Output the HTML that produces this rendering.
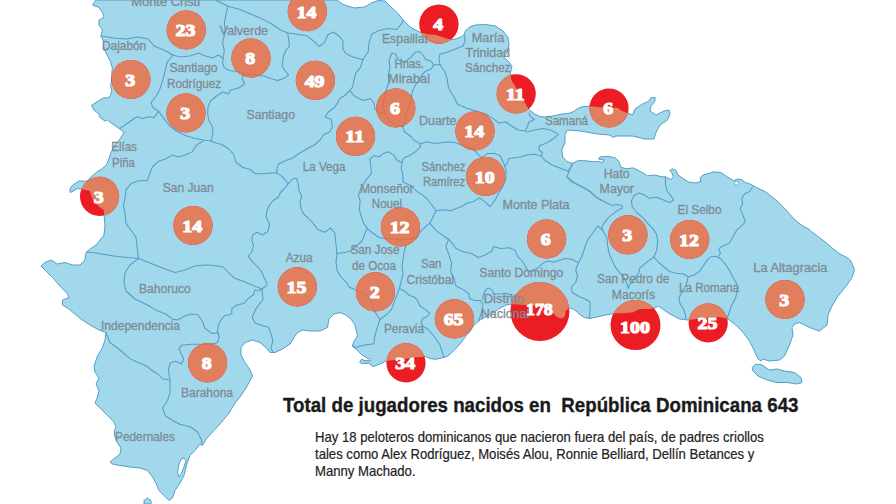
<!DOCTYPE html>
<html><head><meta charset="utf-8"><title>Mapa</title>
<style>
html,body{margin:0;padding:0;background:#fff;}
body{width:896px;height:504px;overflow:hidden;position:relative;font-family:"Liberation Sans",sans-serif;}
svg{position:absolute;left:0;top:0;}
.lb{font-family:"Liberation Sans",sans-serif;font-size:12.5px;fill:#7d8b94;text-anchor:start;stroke:#7d8b94;stroke-width:0.3px;}
.num{font-family:"Liberation Serif",serif;font-weight:bold;font-size:17.6px;fill:#fff;text-anchor:middle;stroke:#fff;stroke-width:1.15px;stroke-linejoin:round;}
.title{position:absolute;left:282.6px;top:393.1px;font-weight:bold;font-size:20.2px;-webkit-text-stroke:0.35px #1a1a1a;line-height:24px;color:#1a1a1a;white-space:pre;transform-origin:0 0;transform:scaleX(0.927);}
.body{position:absolute;left:315px;top:429.1px;-webkit-text-stroke:0.2px #222;font-size:14.5px;line-height:16.95px;color:#222;white-space:pre;transform-origin:0 0;transform:scaleX(0.904);}
</style></head><body>
<svg width="896" height="504" viewBox="0 0 896 504">
<defs><clipPath id="land"><polygon points="96,0 337,0 343,4.5 354,8 364.6,7 372,2.7 378,0.5 385,1 391,7 398.5,14 404,21 410,26.8 415,29.8 419.9,32.2 427.9,34.2 434.8,34.7 439.8,36.2 445.7,38.2 451.7,39.7 454.6,39.2 457.6,38.2 461.6,36.7 464,34.7 465.6,30.75 467.5,28.8 470,26.8 475.5,25 485.5,24.5 495.5,26 503,31 508,37.5 509,45 507,52.5 504,57.5 508,61 512,66 510.5,72.5 511.3,80 520.2,94.3 528.6,109.2 534.5,113.9 539.3,116.3 545.2,117.1 551.2,116.3 557.1,115.1 563.1,113.9 569,113.3 573.8,111.5 577.4,108.6 582.1,106.8 589.3,106.2 600,107.2 610,107.5 618,108 621,110.5 626,112.5 632.5,115 635,109 642.5,104 649,101 651,97.5 655,97.5 655,101 651,106 650,111 656,115 664,111 669,110 670,114 667.5,120 660,125 656,132.5 654,139 645,139 632.5,136 616,136 612.5,137.5 610,135 597.5,134 580,131 567.5,130 565,134 565,142.5 561.8,150 562.7,157 567,161.6 572.5,163.4 577.9,160.7 585,160.7 592,161.6 598.4,161.6 602.9,162.5 603.75,159.8 598.4,159 600,157 608.2,156.25 615.4,158 619,161.6 620.7,167 626,168.75 633.2,167.9 640.4,171.4 647.5,175.9 654.6,175 661.8,176.8 665.4,176.8 670.7,179.5 673.4,176.8 671.6,172.3 669.8,170.5 672.5,168.75 676,170.5 677.9,175 683.2,178.6 688.6,182 695.7,183 701,181.25 700.2,177.7 702.9,175 710,173.2 713.2,171.8 721.25,172.7 727.5,177 733.75,180.7 737.3,179 741.8,179.8 745.4,182.5 750.7,184.3 757,187.9 765,191.4 772,196.8 779.3,203 784.6,208.4 790,214.6 797,221.8 804.3,227 808.75,229 811.4,231.6 818.6,237 825.7,242.3 832.9,248.6 840,254 847,257.5 851,261 854.5,270 852,277.5 847,285 838,296 832,306 828,315 827,325 819.5,331 809.5,327.5 799.5,322.5 794.5,324 792,327.5 793,335 789.5,345 784.5,356 779.5,360 769.5,361 766,360 763,359 761,361 758,359 754.5,351 749.5,341 742,331 734.5,324 728,319 720,317 705,318 688,320 679.5,319 670,314 662.5,309 658.7,306.1 654.7,308.1 649.7,309.1 640.6,309.1 636.6,310.2 633.6,312.2 628.6,312.8 620.5,313.2 615.5,313.2 610.5,314.2 604.5,315.2 596.4,317.2 589.4,318.4 584.4,317.6 580.4,315.2 577.3,312.2 573.3,309.1 570.3,308.1 568.3,308.7 565.6,310.8 564.9,316.2 562.3,318.2 557.25,317.2 554.2,314.2 549,310.5 542,307.5 534,305.8 526.1,305.1 518,304.4 511,304.3 506,305.1 500,308.1 497.5,310 487.5,316 480,320 474,325 470,331.6 466.3,335.2 463.4,339.6 460.5,343.2 456.1,348.3 451.8,352.7 447.4,356.3 441.6,358 435.8,359.3 430,358.6 425.6,356.5 415,357.5 405.3,358.7 395,359.8 386.4,360.9 379.2,364.3 372.7,366.7 369,363.2 361.8,363.5 359.6,362.1 361.8,358.9 364,360.6 370.3,360.8 369.8,359.2 365.4,357 361.8,354.8 356,349 352.3,346.1 353.8,341.8 357.4,336 356,328.7 355,325 351,319 346,315 340,312.5 334,314 329,319 327.5,327.5 320,331 310,331 302.5,330 297.5,332.5 294,337.5 290,344 282.5,349 275,352.5 270,352.5 266,347.5 260,342.5 252.5,340 245,342.5 241,347.5 241,355 245,362.5 250,370 252.5,376 249,382.5 246,388 240,397 235,403 229,413 220,424 212.5,432 206,439 202.5,445.5 200,444 195,450.5 190,455.5 187.5,462 186,467 184,475.5 180,483 175,490.5 172.5,498 169,500.5 164,495.5 159,490.5 156,483 152.5,477 147.5,470.5 140,468 130,467 120,465.5 112.5,464 110,462 115,458 120,454 121,448 117.5,443 115,437 114,432 116,427 114,422 107.5,415.5 101,409 95,403 97.5,397 99,390.5 96,384 99,378 95,372 94,366 97.5,356 102.5,347.5 105,340 106,332.5 99,330 90,325 81,319 75,314 69,309 62.5,305 62.5,300 69,297.5 67.5,294 60,286 52.5,277.5 45,270 41,266 45,262.5 51,260 57.5,264 65,262.5 72.5,265 80,265 85,260 86,252.5 90,249 96,245 100,240 104,235 105,225 104,215 103.75,210 99.6,207 95.4,203 92.6,199 91,195 90,191 81,189 77.4,188.5 74,190.5 70.4,192.6 69.7,190 71,187 73,185 76,183 78.75,181 82,181 85.7,181.5 88.5,180 91,177 94,174.5 96.8,172 101.7,169 106,165.5 108.6,160 111,152.5 115,145 120,139 124,132.5 120,129 112.5,124 107.5,120 105,121 100,117.5 99,114 94,110 91.5,105.4 98.1,101.2 102.9,98.2 108.8,97.6 110.6,95.2 111.8,90.5 110.6,85.7 111.8,79.8 111.8,73.8 112.4,67.9 110.6,61.9 108.2,57.1 104.6,50 103,46.5 104,42.5 101,36 102.5,30 99,25 99,20 104,17.5 102.5,12.5 99,7.5 92.5,5"/><polygon points="752,367.5 756,364 762,365 769.5,370 777,369 784.5,371 794.5,372.5 801,377.5 802,382.5 797,384 787,382.5 777,382.5 767,380 758,376 753,371"/><polygon points="144,504 144,500.5 147.5,498 151,500.5 151,504"/></clipPath></defs>

<g fill="#a2d8eb" stroke="#549dc8" stroke-width="1" stroke-linejoin="round">
<polygon points="96,0 337,0 343,4.5 354,8 364.6,7 372,2.7 378,0.5 385,1 391,7 398.5,14 404,21 410,26.8 415,29.8 419.9,32.2 427.9,34.2 434.8,34.7 439.8,36.2 445.7,38.2 451.7,39.7 454.6,39.2 457.6,38.2 461.6,36.7 464,34.7 465.6,30.75 467.5,28.8 470,26.8 475.5,25 485.5,24.5 495.5,26 503,31 508,37.5 509,45 507,52.5 504,57.5 508,61 512,66 510.5,72.5 511.3,80 520.2,94.3 528.6,109.2 534.5,113.9 539.3,116.3 545.2,117.1 551.2,116.3 557.1,115.1 563.1,113.9 569,113.3 573.8,111.5 577.4,108.6 582.1,106.8 589.3,106.2 600,107.2 610,107.5 618,108 621,110.5 626,112.5 632.5,115 635,109 642.5,104 649,101 651,97.5 655,97.5 655,101 651,106 650,111 656,115 664,111 669,110 670,114 667.5,120 660,125 656,132.5 654,139 645,139 632.5,136 616,136 612.5,137.5 610,135 597.5,134 580,131 567.5,130 565,134 565,142.5 561.8,150 562.7,157 567,161.6 572.5,163.4 577.9,160.7 585,160.7 592,161.6 598.4,161.6 602.9,162.5 603.75,159.8 598.4,159 600,157 608.2,156.25 615.4,158 619,161.6 620.7,167 626,168.75 633.2,167.9 640.4,171.4 647.5,175.9 654.6,175 661.8,176.8 665.4,176.8 670.7,179.5 673.4,176.8 671.6,172.3 669.8,170.5 672.5,168.75 676,170.5 677.9,175 683.2,178.6 688.6,182 695.7,183 701,181.25 700.2,177.7 702.9,175 710,173.2 713.2,171.8 721.25,172.7 727.5,177 733.75,180.7 737.3,179 741.8,179.8 745.4,182.5 750.7,184.3 757,187.9 765,191.4 772,196.8 779.3,203 784.6,208.4 790,214.6 797,221.8 804.3,227 808.75,229 811.4,231.6 818.6,237 825.7,242.3 832.9,248.6 840,254 847,257.5 851,261 854.5,270 852,277.5 847,285 838,296 832,306 828,315 827,325 819.5,331 809.5,327.5 799.5,322.5 794.5,324 792,327.5 793,335 789.5,345 784.5,356 779.5,360 769.5,361 766,360 763,359 761,361 758,359 754.5,351 749.5,341 742,331 734.5,324 728,319 720,317 705,318 688,320 679.5,319 670,314 662.5,309 658.7,306.1 654.7,308.1 649.7,309.1 640.6,309.1 636.6,310.2 633.6,312.2 628.6,312.8 620.5,313.2 615.5,313.2 610.5,314.2 604.5,315.2 596.4,317.2 589.4,318.4 584.4,317.6 580.4,315.2 577.3,312.2 573.3,309.1 570.3,308.1 568.3,308.7 565.6,310.8 564.9,316.2 562.3,318.2 557.25,317.2 554.2,314.2 549,310.5 542,307.5 534,305.8 526.1,305.1 518,304.4 511,304.3 506,305.1 500,308.1 497.5,310 487.5,316 480,320 474,325 470,331.6 466.3,335.2 463.4,339.6 460.5,343.2 456.1,348.3 451.8,352.7 447.4,356.3 441.6,358 435.8,359.3 430,358.6 425.6,356.5 415,357.5 405.3,358.7 395,359.8 386.4,360.9 379.2,364.3 372.7,366.7 369,363.2 361.8,363.5 359.6,362.1 361.8,358.9 364,360.6 370.3,360.8 369.8,359.2 365.4,357 361.8,354.8 356,349 352.3,346.1 353.8,341.8 357.4,336 356,328.7 355,325 351,319 346,315 340,312.5 334,314 329,319 327.5,327.5 320,331 310,331 302.5,330 297.5,332.5 294,337.5 290,344 282.5,349 275,352.5 270,352.5 266,347.5 260,342.5 252.5,340 245,342.5 241,347.5 241,355 245,362.5 250,370 252.5,376 249,382.5 246,388 240,397 235,403 229,413 220,424 212.5,432 206,439 202.5,445.5 200,444 195,450.5 190,455.5 187.5,462 186,467 184,475.5 180,483 175,490.5 172.5,498 169,500.5 164,495.5 159,490.5 156,483 152.5,477 147.5,470.5 140,468 130,467 120,465.5 112.5,464 110,462 115,458 120,454 121,448 117.5,443 115,437 114,432 116,427 114,422 107.5,415.5 101,409 95,403 97.5,397 99,390.5 96,384 99,378 95,372 94,366 97.5,356 102.5,347.5 105,340 106,332.5 99,330 90,325 81,319 75,314 69,309 62.5,305 62.5,300 69,297.5 67.5,294 60,286 52.5,277.5 45,270 41,266 45,262.5 51,260 57.5,264 65,262.5 72.5,265 80,265 85,260 86,252.5 90,249 96,245 100,240 104,235 105,225 104,215 103.75,210 99.6,207 95.4,203 92.6,199 91,195 90,191 81,189 77.4,188.5 74,190.5 70.4,192.6 69.7,190 71,187 73,185 76,183 78.75,181 82,181 85.7,181.5 88.5,180 91,177 94,174.5 96.8,172 101.7,169 106,165.5 108.6,160 111,152.5 115,145 120,139 124,132.5 120,129 112.5,124 107.5,120 105,121 100,117.5 99,114 94,110 91.5,105.4 98.1,101.2 102.9,98.2 108.8,97.6 110.6,95.2 111.8,90.5 110.6,85.7 111.8,79.8 111.8,73.8 112.4,67.9 110.6,61.9 108.2,57.1 104.6,50 103,46.5 104,42.5 101,36 102.5,30 99,25 99,20 104,17.5 102.5,12.5 99,7.5 92.5,5"/><polygon points="752,367.5 756,364 762,365 769.5,370 777,369 784.5,371 794.5,372.5 801,377.5 802,382.5 797,384 787,382.5 777,382.5 767,380 758,376 753,371"/><polygon points="144,504 144,500.5 147.5,498 151,500.5 151,504"/>
<polygon points="184,458 186,460.5 184,467 181,474 179,477 177.5,472 179,464 181,459" fill="#fff"/>
<circle cx="736.6" cy="183.2" r="2" fill="#fff" stroke="#549dc8" stroke-width="0.8"/>
</g>
<g fill="none" stroke="#549dc8" stroke-width="1.05" stroke-linejoin="round" stroke-linecap="round">
<polyline points="101,36 114,38 126,39 138,37 148,39 154,46 164,50 173,55 180,57 190,56 198.5,53 205.5,56 212.5,58 218.5,55 222.5,58"/>
<polyline points="215.4,0 227.9,6.25 226,14.3 224.3,23.2 225.2,30.4 224.3,35.7 222.5,42.9 224.3,50 223.4,57 222.5,62.5 224.3,67.9 229.6,70.5 236.8,71.4 243.9,73.2 242,78.6 244.7,84 238.6,88 230.6,90 228.6,94 222.6,92 216.5,96 210.5,101 208,107 207.7,113 208.6,120 212,125.7 213,133 211.25,141"/>
<polyline points="243.9,73.2 254.6,75 263.6,75.9 270.7,78.6 277.9,80.4 285,77.7 288.6,75 285,70.5 282.3,66 283.2,57 285.9,50 289.5,46.4 288.6,39.3 287.7,33"/>
<polyline points="227.9,6.25 238.6,9 249.3,13.4 260,17.9 270.7,23.2 279.6,29.5 287.7,33 295.7,34 306.4,35.7 313.6,41 319,46.4 324.3,42.9 327.9,34.8 333.2,32 338.6,35.7 343,41 343,49 345.7,53.6 352.9,57 362.9,59.8 368.2,51.8 369,42.9 371.8,34 379,30.4 387.9,28.6 396.8,29.5 402,23.2 403,20.5"/>
<polyline points="362.9,59.8 360.2,67.9 355.7,73.2 354,80.4 352.5,87 349.8,90.7 345.4,95 340,98.5 335,107 327.9,112.5 325.2,117 331.4,119.6 332.3,126.8 329.6,132 323.4,134.8 320.7,139.3 314.3,145 307,148.75 300,153 292.9,157.7 284,161.25 278.6,164 276.8,168.4 276.8,172.9"/>
<polyline points="349.8,90.7 354.3,96 363.2,100.5 370.4,98.75 374,103 374.8,108.6 378.4,112 385.5,114"/>
<polyline points="391.8,53.2 389,60.4 390,67.5 388.2,74.6 389,81.8 387.3,87 385.5,92.5 383.75,99.6 382.9,106.8 385.5,114 389,121 396,125 402.9,126.8"/>
<polyline points="391.8,53.2 395.4,54 399,60.4 405,62 411.4,56.8 415,52.3 419.5,51.4 423,55 425.7,59.5 431,61.25 433.75,64.8 431,69.3 425.7,71 422,74.6 419.5,80 415,85.4 412.3,92.5 410.5,101.4 407.9,108.6 406,115.7 404.5,122 402.9,126.8"/>
<polyline points="433.75,64.8 440,64.8 439,58.6 440,54 447,52.3 456,48.75 463.2,46 465,40.7 464.5,35"/>
<polyline points="440,64.8 444.5,71 447,78 448,85.4 450,91 454,97 457.5,104.3 466.4,107.9 477,111.4 486,114 493.2,118.6 498.6,123 505.7,122 511,125.7 518.2,130 525.4,131 527,127.5 529,122 534.3,119.5 530.7,116.8 529,113.2"/>
<polyline points="527,132 534.3,130 543.2,128.4 550.4,130 556.6,132.9 558.4,134.6 554,138.2 548.6,141.8 543.2,144.5 539.6,145.4 538.75,149.8 542.3,152.5 541.4,156 545,160.5 552,165 561,168.6 568.2,171.25 571,166.8 572.5,163.4"/>
<polyline points="541.4,156 534.3,154.3 527,155 520,157 512.9,157.9 508.4,158.75 507.5,163.2 504.8,166 503,161.4 500.4,156 495,153.4 487.9,153.4 484.3,156 481.6,157.9 477,153.4 474.5,149.8 462.9,145.4 455.7,142.7 448.6,141.8 441.4,142.7 434.3,143.6 427,141.8 420.7,143.75"/>
<polyline points="402.9,126.8 404.6,132 410,135.7 413.6,140 419,142.9 420.7,146.4 415.4,151.8 410,155.4 403.75,158 402,162.5 401,167.9 402.9,175 403,182 411,185.7 416.4,191 421.8,194.6 427,199 431.6,204.5 436,210.7 432.5,217.9 429.8,223.2"/>
<polyline points="402,162.5 397.5,160.7 394,155.4 388.6,151.8 383.2,153.6 378.75,157 374.3,155.4 369.8,159 370.7,166 371.6,173.2 367,178.6 363.6,184 361,188.4 358.4,194.6 360.2,201.8 359.3,209 361,216 363.75,223.2 367.3,228.6 364.6,234 362,241 355.7,246.4 350.4,251 343.2,252.7 337,253.6"/>
<polyline points="367.3,228.6 372.7,233 379,237.5 384.3,238.4 400,240 416.4,238.4 420,232 425.4,226.8 429.8,223.2"/>
<polyline points="436,210.7 443.2,209.8 450.4,210.7 457.5,208 461.4,206.8 466.8,203.2 474,201.4 479.3,197.9 484.6,201.4 490,206.8 495.4,199.6 499,192.5 503,186 506,178 506,170 504.8,166"/>
<polyline points="429.8,223.2 436,230.4 443.2,235.7 448.6,239.3 452,242.9 455.7,248.2 463.2,251.8 471.25,253.5 478.4,257.5 485.5,254.8 491.8,251.25 493.6,246.8 500.7,248.6 509.6,247.7 515,250.4 517.7,256.6 523,262 525.7,267.3 529.3,271.8 537.3,268.2 543.6,262.9 547,261 554.3,262 565,258.4 572,259.3 578.4,262.9 582.9,254 585.5,245 588.2,239 593.6,231.8 598,226 602.3,230"/>
<polyline points="448.6,239.3 445.9,246.4 448.6,254 451.6,262.9 450.7,271.8 454.3,279 456,286 463.2,289.6 468.6,293.2 469.5,298.6 474.8,300.4 480.2,300.4 482.9,304 482,311 480.2,316.4 479,320"/>
<polyline points="482.9,300 482.9,296.8 484.6,291.4 488.2,287.9 491.8,289.6 493.6,294 499,294 506,293.2 511.4,295 513.2,298.6 515,302 519,305"/>
<polyline points="578.4,262.9 575.7,270 577.5,276.25 575.7,282.5 571.25,287 572,292.3 579.3,296.8 586.4,299.5 590,302 590,309.3 589.6,316.4 589,318.5"/>
<polyline points="567,176.8 575.7,183.6 584.6,188 591.8,192.5 597,197.9 601,200"/>
<polyline points="572.5,163.4 569.8,169.6 567,176.8 570.7,181.25 577.9,184.8 585,188.4 590.4,192 594.8,196.4 601,200 606.4,202.7 611.8,205.4 617,204.5 621.6,205.4 622.5,208 617,210.7 612.7,214.3 608.2,217.9 604.6,222.3 602,226.8 602.3,230 606.8,237.5 607.7,246.4 609.5,255 613,262.5 615.7,267.9 620.2,273.2 624.6,278.6 627.3,284.8 628.2,288.4"/>
<polyline points="665.4,176.8 665.4,184 667,191 671.6,196.4 673.4,200 669.8,202.7 663.6,200 656.4,197.3 649.3,198.2 644,194.6 638.6,192.9 634,195.5 631.4,200.9 632.3,207 636.8,212.5 643,217.9 647.5,223.2 652.9,228.6 656.4,234 657.7,241 656.8,250 654,257 648.75,260.7 644.3,264.3 639.8,267.9 638.9,272.3 634.5,278.6 629,285.7 628.2,288.4"/>
<polyline points="654,257 658.6,262.5 664,267 669.3,271.4 676.4,273.2 683.6,274 688,276.8 687,282 685.4,286.6 681.8,292 679,298 680,303.6 683.6,309 685.4,315 686,319"/>
<polyline points="688,276.8 694.3,275 699.6,271.4 703.2,266 706.8,260.7 710.4,257 715.7,256.25 721,259 725.5,264.3 730,271.4 733.6,278.6 737,284 738,287.5 735.75,297.5 730.75,307.5 728,316 727,318.5"/>
<polyline points="752.5,187 749.8,191.4 744.5,194 741.8,198.6 742.7,204 740,208.4 742.7,214.6 745.4,221.8 740.9,226.25 736.4,230.7 732.9,237 729.3,243.2 723,245.9 718.6,248.6 720.4,253 718.5,256.5"/>
<polyline points="288.4,183.6 292.9,179 296.4,178.2 298.2,183.6 299,190.7 301.8,196 300,201.4 301,208.6 303.6,214 307,217 312.5,222.5 317.9,229.6 325,232.3 330.4,227.9 334.8,233.2 335.7,242 337,253.6 336,261.4 337,270.4 341.4,277.5 346.8,282.9 349.5,287.3 355.7,290 362.9,293.6 370,299 372.7,304.3 373.6,309.6 377,315 379.8,319.5 378,325.7 375,335 373.75,343.75 365,345 355,347.5 353,346"/>
<polyline points="407.5,244.6 405.7,245.4 404,252.5 403,259.6 402,266.8 403,274 401.25,281 399.5,288.2 396.8,295.4 394,302.5 391.4,309.6 386,315 379.8,319.5"/>
<polyline points="400.4,289 405.7,291.8 409.3,295.4 414.6,297 418.2,301.6 420,306 425.4,309.6 429.8,313.2 427,316.8 422.7,318.6 420.9,323 423.6,326.6 428.75,330 435,337.5 440,345 442.5,352.5 443.75,357.5"/>
<polyline points="211.25,141 217.5,143.6 221.4,144.3 228.6,148.75 234,155 235.7,162 242.9,167.5 250,169.3 255.4,173.75 262.5,173.75 271.4,172.9 276.8,172.9 282,176.4 286.6,181.8 288.4,183.6 284,189 280.4,192.5 278.6,197 273.2,200.5 269.6,205 267,210.4 266,217 269.6,224.3 267.9,231.4 262.5,235 257,232.3 252.7,235 251.8,240.4 253.6,245.7 251.8,252 248.2,256.4 251.8,260.9 257,266.25 261.6,271.6 264.3,277.9 267,283.2 266.6,285.4 262,289 258.6,290.7 255,289.8 253.2,295 247.9,298.75 244.3,303.2 237,305 231.8,308.6 231.8,314 224.6,315.7 221,320 218.4,324.6 217.5,331.8 219.3,337 217.5,342.5 212,344.3 201.4,344.3 190.7,344.3 181.8,345.2 179,348.75 180.9,353.2 183.6,358.6 181.8,364 175.5,361.25 170.2,363 168.4,370 170,380 170,384.25 170,393 167.5,400.5 162.5,408 165,415.5 172.5,420.5 180,424.25 190,426.75 197.5,431.75 201.25,439.25 202,444"/>
<polyline points="262,289 263,299.6 258.6,305 255,310.4 252.3,317.5 255,322.9 262,325.5 268.4,327.3 271,333.6 272.9,340.7 271,347.9 272.9,352.3"/>
<polyline points="173,55 167.3,62 165.3,70 163.3,78 160.3,88 156.3,96 151.3,102 152.3,107 158.6,111.4 164,118.6 169.3,125.7 176.4,131 185.4,135.5 194.3,138.2 203.2,140 211.25,141"/>
<polyline points="158.6,111.4 154,117.7 148.75,116.8 142.5,118.6 137,116.8 132.7,119.5 126.4,124 120,128.4"/>
<polyline points="203.2,141 196,145.4 192.5,151.6 185.4,155 178.2,157 172.9,155 165.7,158.75 158.6,161.4 153.2,166 151,170 147.5,180.7 138.6,180.7 131.4,183.4 126,189.6 125.2,196.8 123.4,205.7 125.2,214.6 126,223.6 131.4,230.7 135.9,237 136.8,245 137.7,252 138.6,258.4 130,265 125,272.5 124,282.5 126,291 135,299 147.5,305 156.8,310.4 165.7,314 172.9,319.3 178.2,320 183.6,316.6 190.7,314 197.9,314.8 202.3,321 205,328.2 212,333.6 218.4,332.7"/>
<polyline points="86.8,252 95.7,253 106.4,254.8 117,256.6 127.9,257.5 138.6,258.4"/>
<polyline points="138.6,258.4 145,261 155,265 165,269 175,272.5 185,270 195,266 205,265 214.3,265.4 223.2,267 228.6,272.5 234,277.9 244.3,281.8 253.2,285.4 262,289"/>
<polyline points="106,332.5 110,342.5 120,350 130,358.6 137,362 146,365.7 151.4,370 157.5,373.75 162.5,378.75 168.75,380"/>
</g>
<g fill="#ec1c24">
<circle cx="186.25" cy="30" r="19.6"/>
<circle cx="307.3" cy="11.6" r="19.6"/>
<circle cx="438.9" cy="24.1" r="19.7"/>
<circle cx="251" cy="58" r="19.6"/>
<circle cx="315.4" cy="80.4" r="19.6"/>
<circle cx="130.9" cy="79.4" r="19.5"/>
<circle cx="186" cy="113" r="19.6"/>
<circle cx="395.8" cy="108" r="19.6"/>
<circle cx="516.2" cy="93.8" r="19.6"/>
<circle cx="609" cy="108" r="19.6"/>
<circle cx="355.5" cy="136.3" r="19.6"/>
<circle cx="475" cy="131" r="19.6"/>
<circle cx="485.6" cy="176.5" r="19.6"/>
<circle cx="99.6" cy="196.4" r="19.6"/>
<circle cx="193" cy="225.5" r="19.6"/>
<circle cx="400.4" cy="227" r="19.6"/>
<circle cx="546.6" cy="239" r="19.6"/>
<circle cx="627.9" cy="234.9" r="19.6"/>
<circle cx="689.7" cy="239.5" r="19.6"/>
<circle cx="297.3" cy="286.8" r="19.6"/>
<circle cx="375.4" cy="291.9" r="19.6"/>
<circle cx="785" cy="299.5" r="19.6"/>
<circle cx="454.4" cy="318.8" r="19.6"/>
<circle cx="539.9" cy="311.5" r="29.5"/>
<circle cx="635.5" cy="325.1" r="25"/>
<circle cx="708.2" cy="323" r="19.6"/>
<circle cx="406" cy="362.9" r="19.6"/>
<circle cx="207.6" cy="362.8" r="19.6"/>
</g>
<g fill="#e07e5e" clip-path="url(#land)">
<circle cx="186.25" cy="30" r="19.6"/>
<circle cx="307.3" cy="11.6" r="19.6"/>
<circle cx="438.9" cy="24.1" r="19.7"/>
<circle cx="251" cy="58" r="19.6"/>
<circle cx="315.4" cy="80.4" r="19.6"/>
<circle cx="130.9" cy="79.4" r="19.5"/>
<circle cx="186" cy="113" r="19.6"/>
<circle cx="395.8" cy="108" r="19.6"/>
<circle cx="516.2" cy="93.8" r="19.6"/>
<circle cx="609" cy="108" r="19.6"/>
<circle cx="355.5" cy="136.3" r="19.6"/>
<circle cx="475" cy="131" r="19.6"/>
<circle cx="485.6" cy="176.5" r="19.6"/>
<circle cx="99.6" cy="196.4" r="19.6"/>
<circle cx="193" cy="225.5" r="19.6"/>
<circle cx="400.4" cy="227" r="19.6"/>
<circle cx="546.6" cy="239" r="19.6"/>
<circle cx="627.9" cy="234.9" r="19.6"/>
<circle cx="689.7" cy="239.5" r="19.6"/>
<circle cx="297.3" cy="286.8" r="19.6"/>
<circle cx="375.4" cy="291.9" r="19.6"/>
<circle cx="785" cy="299.5" r="19.6"/>
<circle cx="454.4" cy="318.8" r="19.6"/>
<circle cx="539.9" cy="311.5" r="29.5"/>
<circle cx="635.5" cy="325.1" r="25"/>
<circle cx="708.2" cy="323" r="19.6"/>
<circle cx="406" cy="362.9" r="19.6"/>
<circle cx="207.6" cy="362.8" r="19.6"/>
</g>
<clipPath id="circ"><circle cx="186.25" cy="30" r="19.6"/><circle cx="307.3" cy="11.6" r="19.6"/><circle cx="438.9" cy="24.1" r="19.7"/><circle cx="251" cy="58" r="19.6"/><circle cx="315.4" cy="80.4" r="19.6"/><circle cx="130.9" cy="79.4" r="19.5"/><circle cx="186" cy="113" r="19.6"/><circle cx="395.8" cy="108" r="19.6"/><circle cx="516.2" cy="93.8" r="19.6"/><circle cx="609" cy="108" r="19.6"/><circle cx="355.5" cy="136.3" r="19.6"/><circle cx="475" cy="131" r="19.6"/><circle cx="485.6" cy="176.5" r="19.6"/><circle cx="99.6" cy="196.4" r="19.6"/><circle cx="193" cy="225.5" r="19.6"/><circle cx="400.4" cy="227" r="19.6"/><circle cx="546.6" cy="239" r="19.6"/><circle cx="627.9" cy="234.9" r="19.6"/><circle cx="689.7" cy="239.5" r="19.6"/><circle cx="297.3" cy="286.8" r="19.6"/><circle cx="375.4" cy="291.9" r="19.6"/><circle cx="785" cy="299.5" r="19.6"/><circle cx="454.4" cy="318.8" r="19.6"/><circle cx="539.9" cy="311.5" r="29.5"/><circle cx="635.5" cy="325.1" r="25"/><circle cx="708.2" cy="323" r="19.6"/><circle cx="406" cy="362.9" r="19.6"/><circle cx="207.6" cy="362.8" r="19.6"/></clipPath>
<g clip-path="url(#land)"><g clip-path="url(#circ)" fill="none" stroke="#bf6446" stroke-opacity="0.55" stroke-width="0.9" stroke-linejoin="round">
<polyline points="101,36 114,38 126,39 138,37 148,39 154,46 164,50 173,55 180,57 190,56 198.5,53 205.5,56 212.5,58 218.5,55 222.5,58"/>
<polyline points="215.4,0 227.9,6.25 226,14.3 224.3,23.2 225.2,30.4 224.3,35.7 222.5,42.9 224.3,50 223.4,57 222.5,62.5 224.3,67.9 229.6,70.5 236.8,71.4 243.9,73.2 242,78.6 244.7,84 238.6,88 230.6,90 228.6,94 222.6,92 216.5,96 210.5,101 208,107 207.7,113 208.6,120 212,125.7 213,133 211.25,141"/>
<polyline points="243.9,73.2 254.6,75 263.6,75.9 270.7,78.6 277.9,80.4 285,77.7 288.6,75 285,70.5 282.3,66 283.2,57 285.9,50 289.5,46.4 288.6,39.3 287.7,33"/>
<polyline points="227.9,6.25 238.6,9 249.3,13.4 260,17.9 270.7,23.2 279.6,29.5 287.7,33 295.7,34 306.4,35.7 313.6,41 319,46.4 324.3,42.9 327.9,34.8 333.2,32 338.6,35.7 343,41 343,49 345.7,53.6 352.9,57 362.9,59.8 368.2,51.8 369,42.9 371.8,34 379,30.4 387.9,28.6 396.8,29.5 402,23.2 403,20.5"/>
<polyline points="362.9,59.8 360.2,67.9 355.7,73.2 354,80.4 352.5,87 349.8,90.7 345.4,95 340,98.5 335,107 327.9,112.5 325.2,117 331.4,119.6 332.3,126.8 329.6,132 323.4,134.8 320.7,139.3 314.3,145 307,148.75 300,153 292.9,157.7 284,161.25 278.6,164 276.8,168.4 276.8,172.9"/>
<polyline points="349.8,90.7 354.3,96 363.2,100.5 370.4,98.75 374,103 374.8,108.6 378.4,112 385.5,114"/>
<polyline points="391.8,53.2 389,60.4 390,67.5 388.2,74.6 389,81.8 387.3,87 385.5,92.5 383.75,99.6 382.9,106.8 385.5,114 389,121 396,125 402.9,126.8"/>
<polyline points="391.8,53.2 395.4,54 399,60.4 405,62 411.4,56.8 415,52.3 419.5,51.4 423,55 425.7,59.5 431,61.25 433.75,64.8 431,69.3 425.7,71 422,74.6 419.5,80 415,85.4 412.3,92.5 410.5,101.4 407.9,108.6 406,115.7 404.5,122 402.9,126.8"/>
<polyline points="433.75,64.8 440,64.8 439,58.6 440,54 447,52.3 456,48.75 463.2,46 465,40.7 464.5,35"/>
<polyline points="440,64.8 444.5,71 447,78 448,85.4 450,91 454,97 457.5,104.3 466.4,107.9 477,111.4 486,114 493.2,118.6 498.6,123 505.7,122 511,125.7 518.2,130 525.4,131 527,127.5 529,122 534.3,119.5 530.7,116.8 529,113.2"/>
<polyline points="527,132 534.3,130 543.2,128.4 550.4,130 556.6,132.9 558.4,134.6 554,138.2 548.6,141.8 543.2,144.5 539.6,145.4 538.75,149.8 542.3,152.5 541.4,156 545,160.5 552,165 561,168.6 568.2,171.25 571,166.8 572.5,163.4"/>
<polyline points="541.4,156 534.3,154.3 527,155 520,157 512.9,157.9 508.4,158.75 507.5,163.2 504.8,166 503,161.4 500.4,156 495,153.4 487.9,153.4 484.3,156 481.6,157.9 477,153.4 474.5,149.8 462.9,145.4 455.7,142.7 448.6,141.8 441.4,142.7 434.3,143.6 427,141.8 420.7,143.75"/>
<polyline points="402.9,126.8 404.6,132 410,135.7 413.6,140 419,142.9 420.7,146.4 415.4,151.8 410,155.4 403.75,158 402,162.5 401,167.9 402.9,175 403,182 411,185.7 416.4,191 421.8,194.6 427,199 431.6,204.5 436,210.7 432.5,217.9 429.8,223.2"/>
<polyline points="402,162.5 397.5,160.7 394,155.4 388.6,151.8 383.2,153.6 378.75,157 374.3,155.4 369.8,159 370.7,166 371.6,173.2 367,178.6 363.6,184 361,188.4 358.4,194.6 360.2,201.8 359.3,209 361,216 363.75,223.2 367.3,228.6 364.6,234 362,241 355.7,246.4 350.4,251 343.2,252.7 337,253.6"/>
<polyline points="367.3,228.6 372.7,233 379,237.5 384.3,238.4 400,240 416.4,238.4 420,232 425.4,226.8 429.8,223.2"/>
<polyline points="436,210.7 443.2,209.8 450.4,210.7 457.5,208 461.4,206.8 466.8,203.2 474,201.4 479.3,197.9 484.6,201.4 490,206.8 495.4,199.6 499,192.5 503,186 506,178 506,170 504.8,166"/>
<polyline points="429.8,223.2 436,230.4 443.2,235.7 448.6,239.3 452,242.9 455.7,248.2 463.2,251.8 471.25,253.5 478.4,257.5 485.5,254.8 491.8,251.25 493.6,246.8 500.7,248.6 509.6,247.7 515,250.4 517.7,256.6 523,262 525.7,267.3 529.3,271.8 537.3,268.2 543.6,262.9 547,261 554.3,262 565,258.4 572,259.3 578.4,262.9 582.9,254 585.5,245 588.2,239 593.6,231.8 598,226 602.3,230"/>
<polyline points="448.6,239.3 445.9,246.4 448.6,254 451.6,262.9 450.7,271.8 454.3,279 456,286 463.2,289.6 468.6,293.2 469.5,298.6 474.8,300.4 480.2,300.4 482.9,304 482,311 480.2,316.4 479,320"/>
<polyline points="482.9,300 482.9,296.8 484.6,291.4 488.2,287.9 491.8,289.6 493.6,294 499,294 506,293.2 511.4,295 513.2,298.6 515,302 519,305"/>
<polyline points="578.4,262.9 575.7,270 577.5,276.25 575.7,282.5 571.25,287 572,292.3 579.3,296.8 586.4,299.5 590,302 590,309.3 589.6,316.4 589,318.5"/>
<polyline points="567,176.8 575.7,183.6 584.6,188 591.8,192.5 597,197.9 601,200"/>
<polyline points="572.5,163.4 569.8,169.6 567,176.8 570.7,181.25 577.9,184.8 585,188.4 590.4,192 594.8,196.4 601,200 606.4,202.7 611.8,205.4 617,204.5 621.6,205.4 622.5,208 617,210.7 612.7,214.3 608.2,217.9 604.6,222.3 602,226.8 602.3,230 606.8,237.5 607.7,246.4 609.5,255 613,262.5 615.7,267.9 620.2,273.2 624.6,278.6 627.3,284.8 628.2,288.4"/>
<polyline points="665.4,176.8 665.4,184 667,191 671.6,196.4 673.4,200 669.8,202.7 663.6,200 656.4,197.3 649.3,198.2 644,194.6 638.6,192.9 634,195.5 631.4,200.9 632.3,207 636.8,212.5 643,217.9 647.5,223.2 652.9,228.6 656.4,234 657.7,241 656.8,250 654,257 648.75,260.7 644.3,264.3 639.8,267.9 638.9,272.3 634.5,278.6 629,285.7 628.2,288.4"/>
<polyline points="654,257 658.6,262.5 664,267 669.3,271.4 676.4,273.2 683.6,274 688,276.8 687,282 685.4,286.6 681.8,292 679,298 680,303.6 683.6,309 685.4,315 686,319"/>
<polyline points="688,276.8 694.3,275 699.6,271.4 703.2,266 706.8,260.7 710.4,257 715.7,256.25 721,259 725.5,264.3 730,271.4 733.6,278.6 737,284 738,287.5 735.75,297.5 730.75,307.5 728,316 727,318.5"/>
<polyline points="752.5,187 749.8,191.4 744.5,194 741.8,198.6 742.7,204 740,208.4 742.7,214.6 745.4,221.8 740.9,226.25 736.4,230.7 732.9,237 729.3,243.2 723,245.9 718.6,248.6 720.4,253 718.5,256.5"/>
<polyline points="288.4,183.6 292.9,179 296.4,178.2 298.2,183.6 299,190.7 301.8,196 300,201.4 301,208.6 303.6,214 307,217 312.5,222.5 317.9,229.6 325,232.3 330.4,227.9 334.8,233.2 335.7,242 337,253.6 336,261.4 337,270.4 341.4,277.5 346.8,282.9 349.5,287.3 355.7,290 362.9,293.6 370,299 372.7,304.3 373.6,309.6 377,315 379.8,319.5 378,325.7 375,335 373.75,343.75 365,345 355,347.5 353,346"/>
<polyline points="407.5,244.6 405.7,245.4 404,252.5 403,259.6 402,266.8 403,274 401.25,281 399.5,288.2 396.8,295.4 394,302.5 391.4,309.6 386,315 379.8,319.5"/>
<polyline points="400.4,289 405.7,291.8 409.3,295.4 414.6,297 418.2,301.6 420,306 425.4,309.6 429.8,313.2 427,316.8 422.7,318.6 420.9,323 423.6,326.6 428.75,330 435,337.5 440,345 442.5,352.5 443.75,357.5"/>
<polyline points="211.25,141 217.5,143.6 221.4,144.3 228.6,148.75 234,155 235.7,162 242.9,167.5 250,169.3 255.4,173.75 262.5,173.75 271.4,172.9 276.8,172.9 282,176.4 286.6,181.8 288.4,183.6 284,189 280.4,192.5 278.6,197 273.2,200.5 269.6,205 267,210.4 266,217 269.6,224.3 267.9,231.4 262.5,235 257,232.3 252.7,235 251.8,240.4 253.6,245.7 251.8,252 248.2,256.4 251.8,260.9 257,266.25 261.6,271.6 264.3,277.9 267,283.2 266.6,285.4 262,289 258.6,290.7 255,289.8 253.2,295 247.9,298.75 244.3,303.2 237,305 231.8,308.6 231.8,314 224.6,315.7 221,320 218.4,324.6 217.5,331.8 219.3,337 217.5,342.5 212,344.3 201.4,344.3 190.7,344.3 181.8,345.2 179,348.75 180.9,353.2 183.6,358.6 181.8,364 175.5,361.25 170.2,363 168.4,370 170,380 170,384.25 170,393 167.5,400.5 162.5,408 165,415.5 172.5,420.5 180,424.25 190,426.75 197.5,431.75 201.25,439.25 202,444"/>
<polyline points="262,289 263,299.6 258.6,305 255,310.4 252.3,317.5 255,322.9 262,325.5 268.4,327.3 271,333.6 272.9,340.7 271,347.9 272.9,352.3"/>
<polyline points="173,55 167.3,62 165.3,70 163.3,78 160.3,88 156.3,96 151.3,102 152.3,107 158.6,111.4 164,118.6 169.3,125.7 176.4,131 185.4,135.5 194.3,138.2 203.2,140 211.25,141"/>
<polyline points="158.6,111.4 154,117.7 148.75,116.8 142.5,118.6 137,116.8 132.7,119.5 126.4,124 120,128.4"/>
<polyline points="203.2,141 196,145.4 192.5,151.6 185.4,155 178.2,157 172.9,155 165.7,158.75 158.6,161.4 153.2,166 151,170 147.5,180.7 138.6,180.7 131.4,183.4 126,189.6 125.2,196.8 123.4,205.7 125.2,214.6 126,223.6 131.4,230.7 135.9,237 136.8,245 137.7,252 138.6,258.4 130,265 125,272.5 124,282.5 126,291 135,299 147.5,305 156.8,310.4 165.7,314 172.9,319.3 178.2,320 183.6,316.6 190.7,314 197.9,314.8 202.3,321 205,328.2 212,333.6 218.4,332.7"/>
<polyline points="86.8,252 95.7,253 106.4,254.8 117,256.6 127.9,257.5 138.6,258.4"/>
<polyline points="138.6,258.4 145,261 155,265 165,269 175,272.5 185,270 195,266 205,265 214.3,265.4 223.2,267 228.6,272.5 234,277.9 244.3,281.8 253.2,285.4 262,289"/>
<polyline points="106,332.5 110,342.5 120,350 130,358.6 137,362 146,365.7 151.4,370 157.5,373.75 162.5,378.75 168.75,380"/>
</g></g>
<g class="lb">
<text x="131.25" y="6.4" textLength="68.8" lengthAdjust="spacingAndGlyphs">Monte Cristi</text>
<text x="102" y="50.4" textLength="44.2" lengthAdjust="spacingAndGlyphs">Dajabón</text>
<text x="219.8" y="34.8" textLength="48.2" lengthAdjust="spacingAndGlyphs">Valverde</text>
<text x="169.5" y="72.4" textLength="48.0" lengthAdjust="spacingAndGlyphs">Santiago</text>
<text x="167" y="87.60000000000001" textLength="54.2" lengthAdjust="spacingAndGlyphs">Rodríguez</text>
<text x="246.5" y="119.4" textLength="48.5" lengthAdjust="spacingAndGlyphs">Santiago</text>
<text x="382" y="43.0" textLength="45.9" lengthAdjust="spacingAndGlyphs">Espaillat</text>
<text x="394.5" y="68.0" textLength="29.5" lengthAdjust="spacingAndGlyphs">Hnas.</text>
<text x="388" y="83.0" textLength="42.0" lengthAdjust="spacingAndGlyphs">Mirabal</text>
<text x="471.75" y="41.9" textLength="32.5" lengthAdjust="spacingAndGlyphs">María</text>
<text x="465.5" y="56.9" textLength="44.5" lengthAdjust="spacingAndGlyphs">Trinidad</text>
<text x="465" y="72.4" textLength="45.5" lengthAdjust="spacingAndGlyphs">Sánchez</text>
<text x="419" y="124.9" textLength="37.4" lengthAdjust="spacingAndGlyphs">Duarte</text>
<text x="545" y="125.4" textLength="43.0" lengthAdjust="spacingAndGlyphs">Samaná</text>
<text x="302.7" y="170.8" textLength="42.8" lengthAdjust="spacingAndGlyphs">La Vega</text>
<text x="421.6" y="171.4" textLength="43.8" lengthAdjust="spacingAndGlyphs">Sánchez</text>
<text x="422.9" y="186.4" textLength="42.1" lengthAdjust="spacingAndGlyphs">Ramírez</text>
<text x="111.25" y="150.70000000000002" textLength="25.6" lengthAdjust="spacingAndGlyphs">Elías</text>
<text x="112" y="166.70000000000002" textLength="23.0" lengthAdjust="spacingAndGlyphs">Piña</text>
<text x="162.7" y="192.20000000000002" textLength="50.9" lengthAdjust="spacingAndGlyphs">San Juan</text>
<text x="360" y="192.8" textLength="53.8" lengthAdjust="spacingAndGlyphs">Monseñor</text>
<text x="371.8" y="208.0" textLength="30.2" lengthAdjust="spacingAndGlyphs">Nouel</text>
<text x="603.75" y="177.6" textLength="25.9" lengthAdjust="spacingAndGlyphs">Hato</text>
<text x="599.6" y="192.8" textLength="34.4" lengthAdjust="spacingAndGlyphs">Mayor</text>
<text x="502.5" y="209.4" textLength="67.0" lengthAdjust="spacingAndGlyphs">Monte Plata</text>
<text x="677.5" y="214.4" textLength="44.0" lengthAdjust="spacingAndGlyphs">El Seibo</text>
<text x="285.7" y="261.7" textLength="26.8" lengthAdjust="spacingAndGlyphs">Azua</text>
<text x="350.4" y="254.3" textLength="49.1" lengthAdjust="spacingAndGlyphs">San Jose</text>
<text x="352" y="270.4" textLength="44.0" lengthAdjust="spacingAndGlyphs">de Ocoa</text>
<text x="421" y="268.4" textLength="20.4" lengthAdjust="spacingAndGlyphs">San</text>
<text x="406.6" y="284.4" textLength="47.4" lengthAdjust="spacingAndGlyphs">Cristóbal</text>
<text x="479.3" y="277.09999999999997" textLength="83.9" lengthAdjust="spacingAndGlyphs">Santo Domingo</text>
<text x="483.75" y="303.0" textLength="40.2" lengthAdjust="spacingAndGlyphs">Distrito</text>
<text x="480.7" y="318.15" textLength="48.6" lengthAdjust="spacingAndGlyphs">Nacional</text>
<text x="597" y="283.0" textLength="72.3" lengthAdjust="spacingAndGlyphs">San Pedro de</text>
<text x="611.8" y="298.7" textLength="43.2" lengthAdjust="spacingAndGlyphs">Macorís</text>
<text x="679" y="291.9" textLength="60.0" lengthAdjust="spacingAndGlyphs">La Romana</text>
<text x="753.25" y="271.9" textLength="74.2" lengthAdjust="spacingAndGlyphs">La Altagracia</text>
<text x="139" y="293.4" textLength="51.7" lengthAdjust="spacingAndGlyphs">Bahoruco</text>
<text x="101" y="330.4" textLength="79.0" lengthAdjust="spacingAndGlyphs">Independencia</text>
<text x="384" y="333.4" textLength="40.0" lengthAdjust="spacingAndGlyphs">Peravia</text>
<text x="181" y="397.4" textLength="52.0" lengthAdjust="spacingAndGlyphs">Barahona</text>
<text x="115" y="441.4" textLength="60.0" lengthAdjust="spacingAndGlyphs">Pedernales</text>
</g>
<g class="num">
<text transform="translate(185.45,36.1) scale(1.13,1.0)">23</text>
<text transform="translate(306.5,17.7) scale(1.13,1.0)">14</text>
<text transform="translate(438.09999999999997,30.200000000000003) scale(1.13,1.0)">4</text>
<text transform="translate(250.2,64.1) scale(1.13,1.0)">8</text>
<text transform="translate(314.59999999999997,86.5) scale(1.13,1.0)">49</text>
<text transform="translate(130.1,85.5) scale(1.13,1.0)">3</text>
<text transform="translate(185.2,119.1) scale(1.13,1.0)">3</text>
<text transform="translate(395.0,114.1) scale(1.13,1.0)">6</text>
<text transform="translate(515.4000000000001,99.89999999999999) scale(1.13,1.0)">11</text>
<text transform="translate(608.2,114.1) scale(1.13,1.0)">6</text>
<text transform="translate(354.7,142.4) scale(1.13,1.0)">11</text>
<text transform="translate(474.2,137.1) scale(1.13,1.0)">14</text>
<text transform="translate(484.8,182.6) scale(1.13,1.0)">10</text>
<text transform="translate(98.8,202.5) scale(1.13,1.0)">3</text>
<text transform="translate(192.2,231.6) scale(1.13,1.0)">14</text>
<text transform="translate(399.59999999999997,233.1) scale(1.13,1.0)">12</text>
<text transform="translate(545.8000000000001,245.1) scale(1.13,1.0)">6</text>
<text transform="translate(627.1,241.0) scale(1.13,1.0)">3</text>
<text transform="translate(688.9000000000001,245.6) scale(1.13,1.0)">12</text>
<text transform="translate(296.5,292.90000000000003) scale(1.13,1.0)">15</text>
<text transform="translate(374.59999999999997,298.0) scale(1.13,1.0)">2</text>
<text transform="translate(784.2,305.6) scale(1.13,1.0)">3</text>
<text transform="translate(453.59999999999997,324.90000000000003) scale(1.13,1.0)">65</text>
<text transform="translate(539.4,314.69) scale(1.017,0.9)">178</text>
<text transform="translate(635.0,332.50000000000006) scale(1.13,1.0)">100</text>
<text transform="translate(707.4000000000001,329.1) scale(1.13,1.0)">25</text>
<text transform="translate(405.2,369.0) scale(1.13,1.0)">34</text>
<text transform="translate(206.79999999999998,368.90000000000003) scale(1.13,1.0)">8</text>
</g>
</svg>
<div class="title" id="title">Total de jugadores nacidos en  República Dominicana 643</div>
<div class="body" id="body">Hay 18 peloteros dominicanos que nacieron fuera del país, de padres criollos
tales como Alex Rodríguez, Moisés Alou, Ronnie Belliard, Dellín Betances y
Manny Machado.</div>
</body></html>
